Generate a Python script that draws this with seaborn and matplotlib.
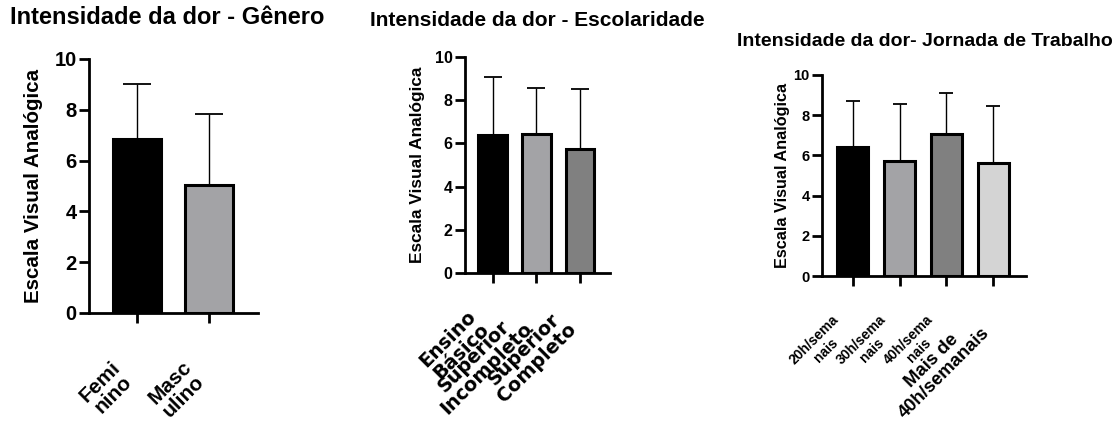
"""
Intensidade da dor (EVA) por Gênero, Escolaridade e Jornada de Trabalho.
Three bar panels with mean + SD (upper bar only), GraphPad-like style.
"""

import matplotlib
matplotlib.use("Agg")
import numpy as np
import matplotlib.pyplot as plt
import matplotlib.transforms as mtrans
import seaborn as sns

# --- DATA ---
genero_labels = ["Femi\nnino", "Masc\nulino"]
genero_mean = [6.85, 5.04]
genero_sd = [2.17, 2.79]

escol_labels = ["Ensino\nBásico", "Superior\nIncompleto", "Superior\nCompleto"]
escol_mean = [6.39, 6.43, 5.74]
escol_sd = [2.68, 2.13, 2.78]

jornada_labels = ["20h/sema\nnais", "30h/sema\nnais", "40h/sema\nnais", "Mais de\n40h/semanais"]
jornada_mean = [6.42, 5.72, 7.06, 5.62]
jornada_sd = [2.28, 2.84, 2.04, 2.84]

YLABEL = "Escala Visual Analógica"

# --- STYLE ---
sns.set_theme(style="ticks")
plt.rcParams["font.family"] = ["Liberation Sans", "DejaVu Sans"]
plt.rcParams["font.weight"] = "bold"
for k in ("text.color", "axes.labelcolor", "xtick.color", "ytick.color", "axes.edgecolor"):
    plt.rcParams[k] = "black"

W, H = 1117, 425
fig = plt.figure(figsize=(W / 100, H / 100), dpi=100)


def px_axes(left, right, top, bottom):
    return fig.add_axes([left / W, 1 - bottom / H, (right - left) / W, (bottom - top) / H])


def draw_panel(ax, labels, means, sds, colors, xlim, cap, tick_fs, xtick_fs,
               ylabel_fs, ylabel_x, xpad, xshift, linesp, xfamily=None):
    x = np.arange(len(labels))
    sns.barplot(x=x, y=means, hue=x, palette=colors, legend=False,
                edgecolor="black", linewidth=2.2, width=0.66, ax=ax, zorder=3)
    ax.errorbar(x, means, yerr=[np.zeros(len(sds)), sds], fmt="none",
                ecolor="black", elinewidth=1.0, capsize=cap, capthick=1.3, zorder=2)
    ax.set_xlim(*xlim)
    ax.set_ylim(0, 10)
    ax.set_yticks([0, 2, 4, 6, 8, 10])
    ax.set_xticks(x)
    ax.set_xticklabels(labels, rotation=45, ha="right", va="top",
                       multialignment="center", fontsize=xtick_fs,
                       fontweight="bold", family=xfamily, linespacing=linesp)
    shift = mtrans.ScaledTranslation(xshift / 100, 0, fig.dpi_scale_trans)
    for t in ax.get_xticklabels():
        t.set_transform(t.get_transform() + shift)
    for t in ax.get_yticklabels():
        t.set_fontsize(tick_fs)
        t.set_fontweight("bold")
    ax.tick_params(axis="y", length=7, width=2, pad=2)
    ax.tick_params(axis="x", length=7, width=2, pad=xpad)
    for s in ("top", "right"):
        ax.spines[s].set_visible(False)
    for s in ("left", "bottom"):
        ax.spines[s].set_linewidth(2)
        ax.spines[s].set_color("black")
    ax.set_xlabel("")
    ax.set_ylabel(YLABEL, fontsize=ylabel_fs, fontweight="bold")
    ax.yaxis.set_label_coords(ylabel_x, 0.5)


ax1 = px_axes(89, 258, 59, 313)
draw_panel(ax1, genero_labels, genero_mean, genero_sd, ["#000000", "#a2a2a7"],
           (-0.67, 1.68), 10, 14.5, 15, 14.8, -0.27, 25, 6, 1.0)

ax2 = px_axes(465, 610, 57, 273)
draw_panel(ax2, escol_labels, escol_mean, escol_sd, ["#000000", "#a2a2a7", "#808080"],
           (-0.64, 2.69), 6.5, 11.5, 13.8, 12.4, -0.276, 17, 3, 0.95,
           xfamily="DejaVu Sans")

ax3 = px_axes(822, 1026, 75, 276)
draw_panel(ax3, jornada_labels, jornada_mean, jornada_sd,
           ["#000000", "#a2a2a7", "#808080", "#d4d4d4"],
           (-0.66, 3.70), 4.7, 10.5, 10, 11.7, -0.157, 19, 2, 1.15)
# the last category label is drawn larger in the original figure
ax3.get_xticklabels()[-1].set_fontsize(13.3)
ax3.get_xticklabels()[-1].set_linespacing(1.05)

fig.text(10 / W, 1 - 18 / H, "Intensidade da dor - Gênero", fontsize=17,
         fontweight="bold", va="center", ha="left")
fig.text(370 / W, 1 - 20 / H, "Intensidade da dor - Escolaridade", fontsize=15,
         fontweight="bold", va="center", ha="left")
fig.text(737 / W, 1 - 42 / H, "Intensidade da dor- Jornada de Trabalho", fontsize=14,
         fontweight="bold", va="center", ha="left")

fig.savefig("out.png", dpi=100)
